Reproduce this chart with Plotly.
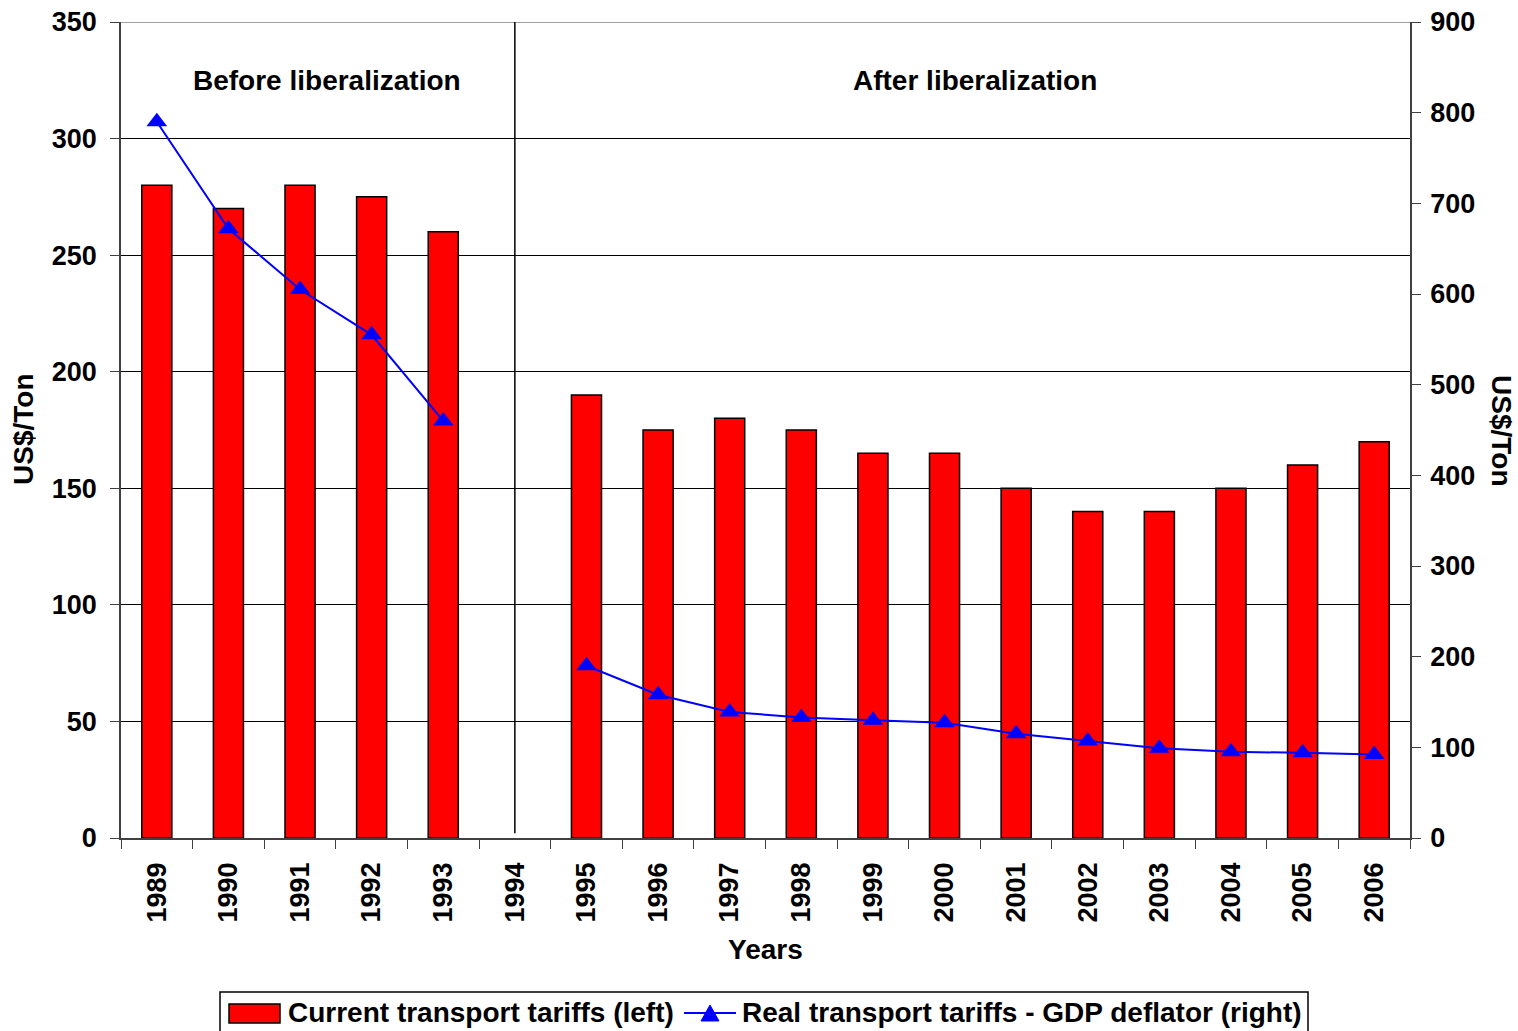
import plotly.graph_objects as go

years = ["1989", "1990", "1991", "1992", "1993", "1994", "1995", "1996", "1997",
         "1998", "1999", "2000", "2001", "2002", "2003", "2004", "2005", "2006"]
current_tariffs = [280, 270, 280, 275, 260, None, 190, 175, 180, 175, 165, 165,
                   150, 140, 140, 150, 160, 170]
real_tariffs = [790, 672, 605, 555, 460, None, 190, 158, 139, 133, 130, 127,
                115, 107, 99, 95, 94, 92]

bar_name = "Current transport tariffs (left)"
line_name = "Real transport tariffs - GDP deflator (right)"

FONT = "Liberation Sans, Arial, sans-serif"
FS = 27   # tick labels
FT = 28   # titles, annotations, legend

# plot area in pixels
L, R, T, B = 121, 1410, 22, 838
W, H = 1518, 1031


def px(x):
    return (x - L) / (R - L)


def py(y):
    return (B - y) / (B - T)


fig = go.Figure()
fig.add_trace(go.Bar(
    x=years, y=current_tariffs, name=bar_name,
    marker=dict(color="#ff0000", line=dict(color="black", width=1.5)),
    width=0.42, yaxis="y",
))
fig.add_trace(go.Scatter(
    x=years, y=real_tariffs, name=line_name,
    mode="lines+markers", connectgaps=False,
    line=dict(color="#0000ff", width=2),
    marker=dict(symbol="triangle-up", size=18, color="#0000ff"),
    yaxis="y2",
))

fig.update_layout(
    width=W, height=H,
    margin=dict(l=L, r=W - R, t=T, b=H - B, autoexpand=False),
    paper_bgcolor="white", plot_bgcolor="white",
    font=dict(family=FONT, size=FS, color="black", weight="bold"),
    showlegend=False,
    xaxis=dict(
        type="category", range=[-0.5, 17.5], automargin=False,
        tickangle=-90, ticks="outside", tickson="boundaries",
        ticklen=9, tickcolor="#404040", showline=True, linecolor="#404040", linewidth=1.5,
        showgrid=False, tickfont=dict(size=FS, weight="bold"), ticklabelstandoff=12,
    ),
    yaxis=dict(
        range=[0, 350], dtick=50, automargin=False, ticks="outside", ticklen=9,
        tickcolor="#404040", showline=True, linecolor="#404040", linewidth=1.5,
        showgrid=True, gridcolor="black", gridwidth=1.2, zeroline=False,
        tickfont=dict(size=FS, weight="bold"), ticklabelstandoff=8,
    ),
    yaxis2=dict(
        range=[0, 900], dtick=100, overlaying="y", side="right", automargin=False,
        ticks="outside", ticklen=9, tickcolor="#404040", showline=True,
        linecolor="#404040", linewidth=1.5, showgrid=False, zeroline=False,
        tickfont=dict(size=FS, weight="bold"), ticklabelstandoff=4,
    ),
)

# top border in grey
fig.add_shape(type="line", xref="paper", yref="y", x0=0, x1=1, y0=350, y1=350,
              line=dict(color="#808080", width=1.5))
# separator between periods
fig.add_shape(type="line", xref="x", yref="y", x0=5, x1=5, y0=2, y1=350,
              line=dict(color="black", width=1.5))

fig.add_annotation(x=2.377, y=325, xref="x", yref="y", text="Before liberalization",
                   showarrow=False, font=dict(size=FT, weight="bold"))
fig.add_annotation(x=11.43, y=325, xref="x", yref="y", text="After liberalization",
                   showarrow=False, font=dict(size=FT, weight="bold"))

# axis titles
fig.add_annotation(x=px(765), y=py(949), xref="paper", yref="paper", text="Years",
                   showarrow=False, font=dict(size=FT, weight="bold"),
                   xanchor="center", yanchor="middle")
fig.add_annotation(x=px(23), y=py(430), xref="paper", yref="paper", text="US$/Ton",
                   showarrow=False, textangle=-90, font=dict(size=FT, weight="bold"),
                   xanchor="center", yanchor="middle")
fig.add_annotation(x=px(1502), y=py(430), xref="paper", yref="paper", text="US$/Ton",
                   showarrow=False, textangle=90, font=dict(size=FT, weight="bold"),
                   xanchor="center", yanchor="middle")

# custom legend
fig.add_shape(type="rect", xref="paper", yref="paper",
              x0=px(220), x1=px(1308), y0=py(1032), y1=py(992),
              line=dict(color="black", width=1.5), fillcolor="white")
fig.add_shape(type="rect", xref="paper", yref="paper",
              x0=px(229), x1=px(280), y0=py(1023), y1=py(1004),
              line=dict(color="black", width=1.5), fillcolor="#ff0000")
fig.add_annotation(x=px(286), y=py(1013), xref="paper", yref="paper", text=bar_name,
                   showarrow=False, xanchor="left", yanchor="middle",
                   font=dict(size=FT, weight="bold"))
fig.add_shape(type="line", xref="paper", yref="paper",
              x0=px(684), x1=px(736), y0=py(1013), y1=py(1013),
              line=dict(color="#0000ff", width=2))
fig.add_shape(type="path", xref="paper", yref="paper",
              path="M {:.5f},{:.5f} L {:.5f},{:.5f} L {:.5f},{:.5f} Z".format(
                  px(701), py(1021), px(719), py(1021), px(710), py(1005)),
              line=dict(color="#0000ff", width=1), fillcolor="#0000ff")
fig.add_annotation(x=px(740), y=py(1013), xref="paper", yref="paper", text=line_name,
                   showarrow=False, xanchor="left", yanchor="middle",
                   font=dict(size=FT, weight="bold"))

fig.write_html(
    "out.html",
    config={"displayModeBar": False},
    post_script="document.body.style.margin='0';document.body.style.overflow='hidden';",
)
